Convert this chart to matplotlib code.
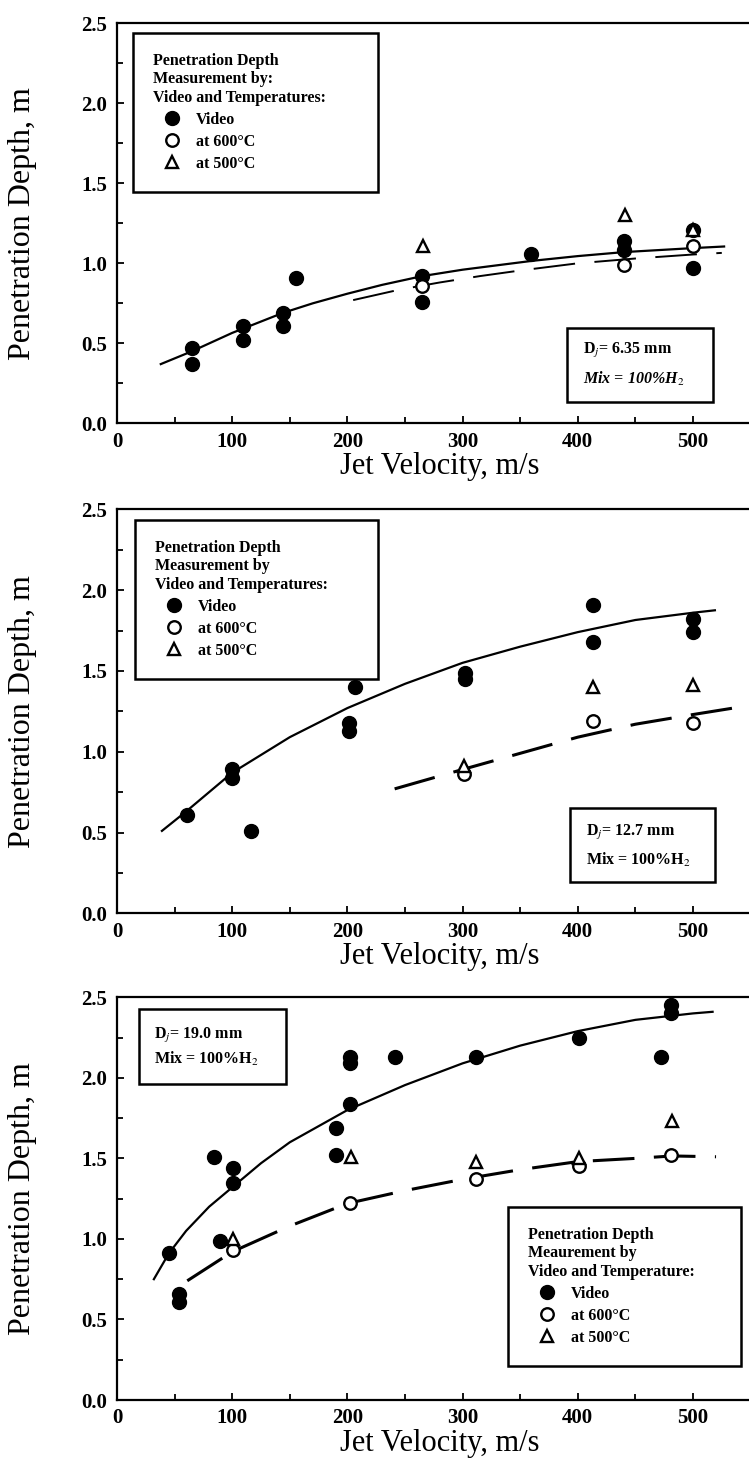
import matplotlib
matplotlib.use('Agg')
import matplotlib.pyplot as plt
from matplotlib.ticker import FixedLocator, MultipleLocator
from matplotlib.lines import Line2D
from matplotlib.patches import Rectangle

plt.rcParams['font.family'] = ['Liberation Serif', 'DejaVu Serif']
plt.rcParams['mathtext.fontset'] = 'stix'
plt.rcParams['lines.scale_dashes'] = False

# ---------------- data ----------------
x_ticks = [0, 100, 200, 300, 400, 500]
y_ticks = [0.0, 0.5, 1.0, 1.5, 2.0, 2.5]
y_ticklabels = ['0.0', '0.5', '1.0', '1.5', '2.0', '2.5']
x_label = 'Jet Velocity, m/s'
y_label = 'Penetration Depth, m'
legend_labels = ['Video', 'at 600°C', 'at 500°C']

# Panel 1 : Dj = 6.35 mm
p1_video_v = [65, 65, 109, 109, 144, 144, 155, 265, 265, 359, 440, 440, 500, 500]
p1_video_d = [0.47, 0.37, 0.61, 0.52, 0.69, 0.61, 0.91, 0.92, 0.76, 1.06, 1.14, 1.08, 0.97, 1.21]
p1_t600_v = [265, 440, 500]
p1_t600_d = [0.86, 0.99, 1.11]
p1_t500_v = [266, 441, 500]
p1_t500_d = [1.11, 1.30, 1.21]
p1_fit_video_v = [38, 65, 100, 144, 170, 200, 230, 265, 300, 360, 400, 440, 500, 527]
p1_fit_video_d = [0.37, 0.45, 0.565, 0.69, 0.75, 0.81, 0.865, 0.92, 0.96, 1.015, 1.045, 1.07, 1.095, 1.105]
p1_fit_temp_v = [205, 245, 280, 315, 350, 400, 450, 500, 525]
p1_fit_temp_d = [0.77, 0.835, 0.88, 0.92, 0.955, 1.00, 1.03, 1.055, 1.065]
p1_title = 'Penetration Depth\nMeasurement by:\nVideo and Temperatures:'
p1_note = ['D$_j$= 6.35 mm', 'Mix = 100%H$_2$']

# Panel 2 : Dj = 12.7 mm
p2_video_v = [61, 100, 100, 116, 207, 201, 201, 302, 302, 413, 413, 500, 500]
p2_video_d = [0.61, 0.89, 0.84, 0.51, 1.40, 1.18, 1.13, 1.49, 1.45, 1.91, 1.68, 1.82, 1.74]
p2_t600_v = [301, 413, 500]
p2_t600_d = [0.86, 1.19, 1.18]
p2_t500_v = [301, 413, 500]
p2_t500_d = [0.91, 1.40, 1.41]
p2_fit_video_v = [39, 60, 100, 150, 200, 250, 300, 350, 400, 450, 500, 519]
p2_fit_video_d = [0.51, 0.63, 0.87, 1.09, 1.27, 1.42, 1.55, 1.65, 1.74, 1.815, 1.86, 1.875]
p2_fit_temp_v = [241, 300, 350, 400, 450, 500, 535]
p2_fit_temp_d = [0.77, 0.89, 0.99, 1.09, 1.17, 1.23, 1.27]
p2_title = 'Penetration Depth\nMeasurement by\nVideo and Temperatures:'
p2_note = ['D$_j$= 12.7 mm', 'Mix = 100%H$_2$']

# Panel 3 : Dj = 19.0 mm
p3_video_v = [45, 54, 54, 84, 89, 101, 101, 190, 190, 202, 202, 202, 241, 312, 401, 472, 481, 481]
p3_video_d = [0.91, 0.66, 0.61, 1.51, 0.99, 1.44, 1.35, 1.69, 1.52, 2.13, 2.09, 1.84, 2.13, 2.13, 2.25, 2.13, 2.45, 2.40]
p3_t600_v = [101, 202, 312, 401, 481]
p3_t600_d = [0.93, 1.22, 1.37, 1.45, 1.52]
p3_t500_v = [101, 203, 312, 401, 482]
p3_t500_d = [1.00, 1.51, 1.48, 1.50, 1.73]
p3_fit_video_v = [32, 45, 60, 80, 100, 125, 150, 200, 250, 300, 350, 400, 450, 500, 517]
p3_fit_video_d = [0.75, 0.91, 1.05, 1.20, 1.32, 1.47, 1.60, 1.80, 1.955, 2.09, 2.20, 2.29, 2.36, 2.40, 2.41]
p3_fit_temp_v = [61, 100, 150, 200, 250, 300, 350, 400, 450, 482, 520]
p3_fit_temp_d = [0.74, 0.92, 1.08, 1.22, 1.30, 1.37, 1.43, 1.48, 1.50, 1.515, 1.51]
p3_title = 'Penetration Depth\nMeaurement by\nVideo and Temperature:'
p3_note = ['D$_j$= 19.0 mm', 'Mix = 100%H$_2$']

# ---------------- layout ----------------
W, H = 749, 1466
fig = plt.figure(figsize=(W / 100, H / 100), dpi=100)

LEFT = 117
XMAX = 560
PX_PER_UNIT = 1.152
AX_W = XMAX * PX_PER_UNIT

panels = [
    dict(top=23.3, bot=423.3,
         vv=p1_video_v, vd=p1_video_d, av=p1_t600_v, ad=p1_t600_d, bv=p1_t500_v, bd=p1_t500_d,
         fv=p1_fit_video_v, fd=p1_fit_video_d, tv=p1_fit_temp_v, td=p1_fit_temp_d,
         title=p1_title, note=p1_note, note_italic=True,
         leg=(0.0245, 0.5876, 0.3805, 0.3884),
         box=(0.697, 0.0524, 0.227, 0.1866), note_xy=(0.722, 0.181, 0.110),
         temp_lw=1.4),
    dict(top=509.3, bot=913.3,
         vv=p2_video_v, vd=p2_video_d, av=p2_t600_v, ad=p2_t600_d, bv=p2_t500_v, bd=p2_t500_d,
         fv=p2_fit_video_v, fd=p2_fit_video_d, tv=p2_fit_temp_v, td=p2_fit_temp_d,
         title=p2_title, note=p2_note, note_italic=False,
         leg=(0.0279, 0.582, 0.377, 0.392),
         box=(0.702, 0.078, 0.225, 0.182), note_xy=(0.727, 0.200, 0.132),
         temp_lw=2.2),
    dict(top=997.3, bot=1400.0,
         vv=p3_video_v, vd=p3_video_d, av=p3_t600_v, ad=p3_t600_d, bv=p3_t500_v, bd=p3_t500_d,
         fv=p3_fit_video_v, fd=p3_fit_video_d, tv=p3_fit_temp_v, td=p3_fit_temp_d,
         title=p3_title, note=p3_note, note_italic=False,
         leg=(0.606, 0.0896, 0.362, 0.3896),
         box=(0.0345, 0.784, 0.2275, 0.186), note_xy=(0.058, 0.906, 0.846),
         temp_lw=2.2),
]

for p in panels:
    ax = fig.add_axes([LEFT / W, 1 - p['bot'] / H, AX_W / W, (p['bot'] - p['top']) / H])
    ax.set_xlim(0, XMAX)
    ax.set_ylim(0, 2.5)

    ax.plot(p['fv'], p['fd'], color='black', lw=1.6, zorder=2)
    ax.plot(p['tv'], p['td'], color='black', lw=p['temp_lw'], ls=(0, (30, 14)), zorder=2)

    ax.plot(p['vv'], p['vd'], ls='none', marker='o', ms=10, mfc='black', mec='black', zorder=3)
    ax.plot(p['av'], p['ad'], ls='none', marker='o', ms=9, mfc='white', mec='black', mew=1.7, zorder=4)
    ax.plot(p['bv'], p['bd'], ls='none', marker='^', ms=9, mfc='white', mec='black', mew=1.7, zorder=4)

    ax.xaxis.set_major_locator(FixedLocator(x_ticks))
    ax.xaxis.set_minor_locator(MultipleLocator(50))
    ax.yaxis.set_major_locator(FixedLocator(y_ticks))
    ax.yaxis.set_minor_locator(MultipleLocator(0.25))
    ax.set_yticklabels(y_ticklabels)
    ax.tick_params(which='both', direction='in', top=False, right=False, width=1.3)
    ax.tick_params(which='major', length=5)
    ax.tick_params(which='minor', length=4)
    ax.tick_params(axis='x', labelsize=15, pad=6)
    ax.tick_params(axis='y', labelsize=15, pad=7)
    for lab in ax.get_xticklabels() + ax.get_yticklabels():
        lab.set_fontweight('bold')
    for s in ax.spines.values():
        s.set_linewidth(1.6)

    ax.set_xlabel(x_label, fontsize=22)
    ax.set_ylabel(y_label, fontsize=23)
    ax.xaxis.set_label_coords(0.5, -0.072)
    ax.yaxis.set_label_coords(-0.124, 0.5)

    handles = [
        Line2D([], [], ls='none', marker='o', ms=10, mfc='black', mec='black'),
        Line2D([], [], ls='none', marker='o', ms=9, mfc='white', mec='black', mew=1.7),
        Line2D([], [], ls='none', marker='^', ms=9, mfc='white', mec='black', mew=1.7),
    ]
    leg = ax.legend(handles, legend_labels, title=p['title'], alignment='left',
                    loc='upper left', bbox_to_anchor=p['leg'], mode='expand',
                    borderaxespad=0, fancybox=False, edgecolor='black', framealpha=1,
                    prop={'size': 11.5, 'weight': 'bold'},
                    title_fontproperties={'size': 11.5, 'weight': 'bold'},
                    handlelength=2.4, handletextpad=0.3,
                    labelspacing=0.38, borderpad=1.25)
    leg.get_frame().set_linewidth(1.8)
    leg.get_title().set_linespacing(1.2)
    leg.set_zorder(5)

    bx, by, bw, bh = p['box']
    ax.add_patch(Rectangle((bx, by), bw, bh, transform=ax.transAxes, fill=True,
                           facecolor='white', edgecolor='black', lw=1.8, zorder=5))
    nx, ny1, ny2 = p['note_xy']
    ax.text(nx, ny1, p['note'][0], transform=ax.transAxes, fontsize=11.5,
            fontweight='bold', va='center', ha='left', zorder=6)
    ax.text(nx, ny2, p['note'][1], transform=ax.transAxes, fontsize=11.5,
            fontweight='bold', va='center', ha='left', zorder=6,
            style='italic' if p['note_italic'] else 'normal')

fig.savefig('out.png', dpi=100)
